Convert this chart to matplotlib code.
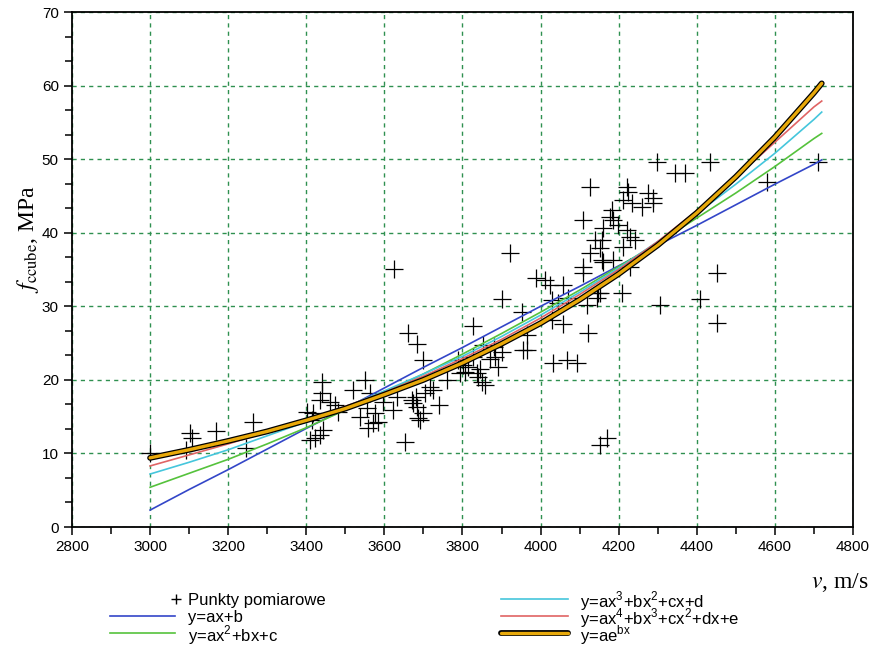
import matplotlib
matplotlib.use('Agg')
from matplotlib import pyplot as plt
from matplotlib.ticker import MultipleLocator, AutoMinorLocator
from matplotlib.lines import Line2D
import matplotlib.patheffects as pe

plt.rcParams['font.family'] = ['Liberation Sans', 'DejaVu Sans']
plt.rcParams['mathtext.fontset'] = 'stix'

# measured points (v in m/s, f_ccube in MPa)
v_pts = [3000, 3102, 3107, 3092, 3169, 3263, 3246,
         3440, 3440, 3435, 3461, 3474, 3402, 3417, 3443, 3435, 3410, 3422, 3481,
         3520, 3550, 3563, 3555, 3538, 3571, 3558, 3596, 3622, 3632, 3653, 3671,
         3684, 3691, 3699, 3704, 3699, 3625, 3661, 3684, 3717, 3725, 3681, 3673,
         3686, 3740, 3760, 3576, 3583, 3415,
         3827, 3789, 3801, 3814, 3827, 3794, 3806, 3840, 3853, 3901, 3883, 3891,
         3837, 3850, 3858, 3922, 3901, 3952, 3965, 3965, 3955, 3988, 3845, 3870,
         3880,
         4011, 4024, 4057, 4029, 4045, 4070, 4029, 4057, 4121, 4032, 4068, 4093,
         4109, 4109, 4109, 4139, 4127, 4160, 4119, 4147, 4127, 4170, 4152, 4152,
         4145, 4152,
         4183, 4178, 4186, 4198, 4160, 4221, 4229, 4157, 4242, 4211, 4157, 4186,
         4229, 4209, 4211, 4221, 4224, 4234, 4260, 4275, 4288, 4288, 4298, 4306,
         4344, 4370, 4434, 4408, 4452, 4452, 4580, 4711]
f_pts = [10.0, 12.8, 12.1, 10.5, 13.0, 14.3, 10.7,
         19.7, 18.2, 17.3, 17.0, 16.6, 15.6, 15.5, 13.2, 12.5, 11.8, 12.1, 15.6,
         18.6, 20.0, 18.2, 16.2, 14.9, 14.1, 13.5, 17.0, 15.9, 17.7, 11.5, 17.3,
         16.3, 14.5, 22.7, 18.2, 15.5, 35.1, 26.4, 24.9, 19.0, 18.6, 17.7, 16.8,
         14.8, 16.6, 20.0, 15.5, 14.3, 14.6,
         27.3, 22.7, 22.0, 21.7, 23.1, 20.9, 21.1, 20.4, 24.7, 23.8, 23.1, 21.7,
         20.9, 19.7, 19.3, 37.2, 31.0, 29.2, 26.1, 24.0, 24.0, 33.8, 21.5, 22.8,
         24.5,
         33.6, 32.9, 32.9, 30.8, 30.4, 31.1, 28.1, 27.6, 26.4, 22.3, 22.7, 22.3,
         35.3, 34.5, 41.7, 39.0, 37.2, 36.0, 30.2, 31.8, 46.2, 12.1, 11.1, 31.8,
         31.1, 37.9,
         43.1, 42.1, 41.7, 41.0, 40.6, 40.4, 39.4, 39.0, 39.0, 38.0, 36.3, 36.3,
         35.3, 31.8, 44.4, 46.2, 45.5, 44.0, 43.5, 45.4, 44.7, 44.0, 49.6, 30.2,
         48.1, 48.1, 49.6, 31.0, 34.5, 27.7, 46.9, 49.6]

# fitted curves
v_fit = [3000, 3100, 3200, 3300, 3400, 3500, 3600, 3700, 3800, 3900,
         4000, 4100, 4200, 4300, 4400, 4500, 4600, 4700, 4720]
f_lin = [2.3, 5.1, 7.8, 10.6, 13.4, 16.1, 18.9, 21.7, 24.4, 27.2,
         30.0, 32.7, 35.5, 38.3, 41.0, 43.8, 46.6, 49.3, 49.9]
f_quad = [5.4, 7.3, 9.2, 11.3, 13.5, 15.9, 18.3, 20.8, 23.5, 26.3,
          29.2, 32.2, 35.4, 38.6, 42.0, 45.4, 49.0, 52.8, 53.5]
f_cub = [7.2, 8.8, 10.5, 12.4, 14.3, 16.3, 18.5, 20.8, 23.2, 25.9,
         28.8, 31.9, 35.2, 38.8, 42.6, 46.6, 50.8, 55.4, 56.4]
f_quart = [8.3, 9.8, 11.3, 12.9, 14.6, 16.4, 18.3, 20.5, 22.9, 25.5,
           28.4, 31.6, 35.0, 38.8, 43.0, 47.5, 52.3, 57.1, 57.9]
f_exp = [9.4, 10.5, 11.7, 13.0, 14.5, 16.1, 18.0, 20.0, 22.3, 24.9,
         27.7, 30.9, 34.4, 38.3, 42.7, 47.6, 53.0, 59.0, 60.3]

labels = ['Punkty pomiarowe', 'y=ax+b', r'y=ax$^{\mathregular{2}}$+bx+c',
          r'y=ax$^{\mathregular{3}}$+bx$^{\mathregular{2}}$+cx+d',
          r'y=ax$^{\mathregular{4}}$+bx$^{\mathregular{3}}$+cx$^{\mathregular{2}}$+dx+e',
          r'y=ae$^{\mathregular{bx}}$']
colors = ['black', '#3346c8', '#55c23c', '#45c6dc', '#e06464', '#e8a90a']

fig = plt.figure(figsize=(8.77, 6.46), dpi=100)
ax = fig.add_axes([0.0821, 0.1842, 0.8905, 0.7972])

ax.plot(v_pts, f_pts, '+', color='black', markersize=13, markeredgewidth=0.9, zorder=3)
ax.plot(v_fit, f_lin, color=colors[1], lw=1.2, zorder=4)
ax.plot(v_fit, f_quad, color=colors[2], lw=1.2, zorder=4)
ax.plot(v_fit, f_cub, color=colors[3], lw=1.2, zorder=4)
ax.plot(v_fit, f_quart, color=colors[4], lw=1.2, zorder=4)
ax.plot(v_fit, f_exp, color='black', lw=4.2, solid_capstyle='round', zorder=5)
ax.plot(v_fit, f_exp, color=colors[5], lw=2.4, solid_capstyle='round', zorder=6)

ax.set_xlim(2800, 4800)
ax.set_ylim(0, 70)
ax.xaxis.set_major_locator(MultipleLocator(200))
ax.xaxis.set_minor_locator(MultipleLocator(100))
ax.yaxis.set_major_locator(MultipleLocator(10))
ax.yaxis.set_minor_locator(AutoMinorLocator(3))
ax.tick_params(which='both', direction='out', labelsize=11, width=1.1, color='black')
ax.tick_params(which='major', length=6)
ax.tick_params(which='minor', length=5)
for s in ax.spines.values():
    s.set_linewidth(1.3)
ax.grid(True, which='major', color='#2f9050', linestyle=(0, (3, 3)), linewidth=1.0)
ax.set_axisbelow(True)

fig.text(0.032, 0.63, r'$f_{\mathrm{ccube}}$, MPa', rotation=90, ha='center', va='center',
         family='Liberation Serif', fontsize=17)
fig.text(0.99, 0.098, r'$v$, m/s', ha='right', va='center',
         family='Liberation Serif', fontsize=17)

# legend drawn by hand: two columns, three rows
W, H = 877.0, 646.0
rows = [599, 616, 633]
cols = [(110, 175, 188), (501, 568, 580)]
for i, lab in enumerate(labels):
    c, r = divmod(i, 3)
    x0, x1, xt = cols[c]
    y = 1 - rows[r] / H
    if i == 0:
        fig.add_artist(Line2D([176 / W], [y], marker='+', color='black', markersize=7,
                              markeredgewidth=1.0, linestyle='none'))
    elif i == 5:
        fig.add_artist(Line2D([x0 / W, x1 / W], [y, y], color=colors[5], lw=2.4,
                              solid_capstyle='round',
                              path_effects=[pe.Stroke(linewidth=4.2, foreground='black'),
                                            pe.Normal()]))
    else:
        fig.add_artist(Line2D([x0 / W, x1 / W], [y, y], color=colors[i], lw=1.2))
    fig.text(xt / W, y, lab, ha='left', va='center_baseline', fontsize=12)

plt.savefig('out.png')
